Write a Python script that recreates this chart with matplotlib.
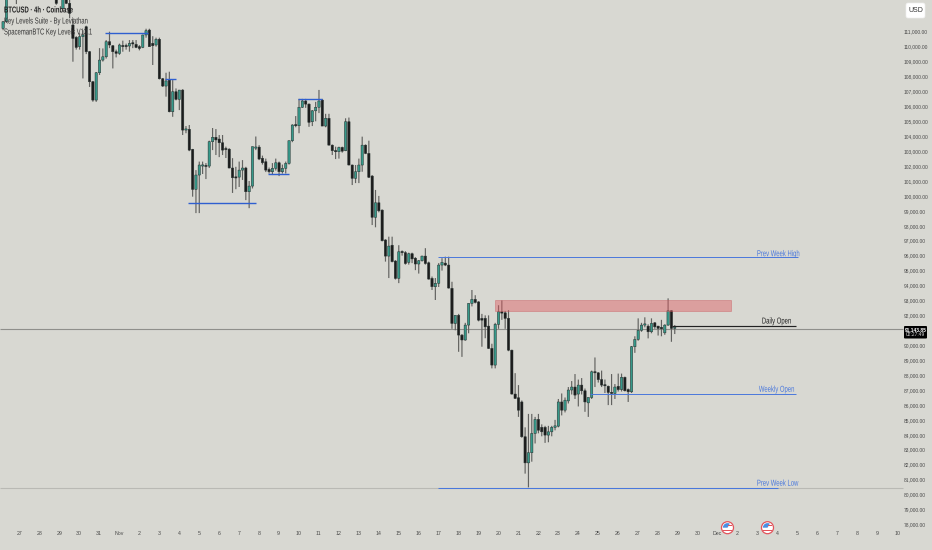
# %% Libraries
import matplotlib

matplotlib.use("Agg")
import matplotlib.pyplot as plt
import numpy as np
from matplotlib.patches import Circle, FancyBboxPatch, Rectangle, Wedge
from matplotlib.patheffects import AbstractPathEffect
from matplotlib.transforms import Affine2D

# %% Data - BTCUSD 4h candles, thousands of USD
opens = [
    111.22, 111.67, 113.25, 113.5, 113.6, 113.7, 113.9, 113.7, 113.8, 114.0,
    113.8, 113.6, 113.8, 113.7, 113.6, 113.5, 113.6, 113.3, 112.56, 113.3,
    112.9, 111.45, 110.62, 110.0, 110.67, 111.33, 109.66, 107.65, 106.42, 108.25,
    109.1, 109.32, 110.33, 110.06, 109.66, 109.55, 110.04, 110.04, 110.04, 110.22,
    110.15, 110.0, 109.95, 110.78, 111.11, 110.22, 110.11, 110.49, 107.85, 107.36,
    107.76, 105.64, 106.98, 106.47, 107.09, 104.41, 104.46, 103.12, 100.44, 101.4,
    102.0, 102.02, 102.0, 103.63, 103.93, 103.81, 103.56, 103.12, 103.13, 101.87,
    101.22, 101.26, 101.73, 101.87, 100.28, 100.66, 103.2, 103.27, 102.52, 102.29,
    101.78, 101.62, 101.85, 102.22, 101.62, 101.85, 102.18, 103.7, 104.75, 104.7,
    105.94, 106.36, 106.15, 104.97, 105.7, 105.94, 106.42, 104.68, 105.2, 103.4,
    103.03, 102.96, 103.25, 103.03, 104.97, 102.07, 101.18, 101.62, 102.07, 103.4,
    102.85, 101.33, 98.57, 99.54, 99.05, 97.05, 95.97, 96.7, 95.64, 94.48,
    96.26, 96.2, 95.55, 96.13, 95.83, 95.44, 95.66, 95.97, 95.52, 94.48,
    93.92, 94.15, 95.37, 95.5, 95.37, 93.81, 91.46, 92.0, 90.68, 90.35,
    91.35, 92.8, 93.07, 92.9, 91.8, 91.8, 91.28, 89.79, 88.67, 91.4,
    92.24, 92.17, 91.8, 89.67, 86.73, 86.48, 86.2, 83.87, 82.12, 82.8,
    84.09, 85.03, 84.5, 84.5, 83.98, 84.2, 84.5, 84.58, 86.2, 85.65,
    86.27, 87.0, 87.2, 86.73, 87.33, 86.95, 86.14, 86.5, 88.22, 88.15,
    87.7, 87.33, 87.25, 86.84, 86.77, 87.25, 87.03, 87.85, 87.03, 86.88,
    89.9, 90.39, 91.0, 91.35, 91.28, 90.9, 91.5, 91.28, 91.2, 90.83,
    91.35, 92.31, 91.13,
]
highs = [
    111.7, 113.3, 113.6, 113.8, 113.9, 114.0, 114.1, 113.9, 114.2, 114.2,
    114.0, 113.9, 114.0, 113.9, 113.8, 113.7, 113.7, 113.6, 113.4, 113.4,
    113.2, 111.9, 110.7, 110.9, 111.1, 111.4, 109.7, 107.7, 108.3, 109.9,
    109.88, 110.44, 111.0, 110.1, 109.8, 110.2, 110.4, 110.2, 110.44, 110.44,
    110.44, 110.1, 110.8, 111.2, 111.2, 110.7, 110.6, 110.6, 107.9, 108.25,
    108.32, 107.76, 107.2, 107.1, 107.15, 104.68, 104.75, 103.15, 101.73, 102.3,
    102.3, 102.2, 103.7, 104.55, 104.48, 104.08, 104.08, 103.3, 103.2, 102.53,
    101.95, 102.3, 102.4, 101.95, 101.0, 103.3, 103.98, 103.4, 102.7, 102.5,
    101.9, 102.2, 102.5, 102.3, 102.1, 102.3, 103.7, 104.8, 105.35, 106.5,
    106.5, 106.5, 106.2, 105.75, 106.3, 107.1, 106.5, 105.5, 105.5, 103.45,
    103.3, 103.3, 103.3, 105.2, 105.25, 102.1, 102.07, 102.5, 103.97, 103.45,
    103.7, 101.4, 100.4, 100.0, 99.1, 97.1, 97.27, 97.27, 95.7, 96.7,
    96.35, 96.3, 96.2, 96.2, 95.9, 95.7, 96.0, 96.5, 95.6, 94.6,
    94.5, 95.5, 95.83, 95.93, 95.93, 94.25, 92.0, 92.1, 90.75, 91.5,
    92.8, 93.7, 93.35, 92.95, 92.1, 92.0, 92.0, 90.1, 91.5, 92.68,
    93.0, 92.3, 92.35, 89.7, 88.13, 87.33, 86.3, 84.5, 85.4, 85.4,
    85.2, 85.4, 84.7, 84.6, 84.6, 84.6, 85.0, 86.4, 86.77, 86.5,
    87.2, 87.6, 88.07, 87.7, 87.8, 87.1, 86.5, 88.3, 89.18, 88.2,
    88.3, 87.7, 87.3, 88.07, 87.4, 88.1, 88.1, 87.9, 87.1, 89.95,
    90.6, 91.8, 91.5, 91.87, 91.4, 91.8, 91.55, 91.3, 91.7, 91.4,
    93.14, 92.35, 91.35,
]
lows = [
    111.1, 111.6, 113.2, 113.3, 112.85, 113.5, 113.6, 113.4, 113.6, 113.7,
    113.5, 113.4, 113.5, 113.4, 113.3, 113.3, 112.8, 113.2, 112.5, 112.85,
    111.9, 108.99, 109.8, 109.8, 107.87, 109.5, 107.3, 106.31, 106.3, 108.1,
    109.0, 109.2, 109.9, 108.54, 109.28, 109.45, 109.66, 109.8, 109.66, 109.9,
    109.9, 109.75, 109.9, 110.6, 110.0, 108.77, 110.0, 107.8, 107.3, 106.65,
    105.6, 105.3, 106.4, 105.75, 104.08, 104.2, 103.0, 99.95, 98.85, 98.85,
    101.47, 101.13, 101.87, 103.07, 102.74, 102.6, 102.74, 102.54, 101.85, 100.2,
    100.45, 100.6, 101.07, 99.72, 99.18, 100.5, 103.07, 102.4, 102.1, 101.6,
    101.5, 101.4, 101.7, 101.33, 101.5, 101.5, 102.1, 103.6, 104.6, 104.2,
    105.9, 105.9, 104.63, 104.68, 105.0, 105.55, 104.68, 104.6, 103.4, 102.74,
    102.47, 102.5, 102.9, 103.0, 102.05, 100.73, 100.86, 100.86, 101.62, 102.8,
    101.2, 98.05, 97.9, 98.9, 96.95, 95.6, 94.5, 95.55, 94.4, 94.16,
    96.0, 95.4, 95.4, 95.5, 95.03, 94.8, 95.6, 95.4, 94.4, 93.7,
    93.03, 93.9, 95.0, 95.3, 93.8, 91.1, 91.0, 89.56, 89.22, 90.3,
    90.8, 92.6, 92.8, 91.6, 89.9, 90.47, 89.75, 88.45, 88.45, 91.1,
    91.7, 91.1, 89.6, 86.7, 86.4, 85.2, 83.8, 81.4, 80.48, 82.2,
    83.42, 84.1, 83.9, 83.46, 83.5, 83.9, 84.3, 84.5, 85.3, 85.5,
    86.1, 86.7, 86.4, 85.9, 86.7, 85.54, 85.2, 86.4, 87.2, 87.5,
    87.2, 86.8, 85.99, 85.99, 86.4, 86.9, 86.9, 86.9, 86.2, 86.8,
    89.49, 90.3, 90.9, 91.2, 90.46, 90.8, 91.1, 90.65, 90.6, 90.7,
    91.3, 90.23, 90.75,
]
closes = [
    111.67, 113.25, 113.5, 113.6, 113.7, 113.9, 113.7, 113.8, 114.0, 113.8,
    113.6, 113.8, 113.7, 113.6, 113.5, 113.6, 112.9, 113.4, 113.3, 112.9,
    112.23, 110.55, 109.95, 110.67, 110.78, 109.66, 107.65, 106.42, 108.25, 109.1,
    109.32, 110.33, 110.11, 109.66, 109.55, 110.11, 110.0, 110.0, 110.22, 110.18,
    109.95, 109.88, 110.78, 111.07, 110.0, 110.06, 110.49, 107.85, 107.36, 107.7,
    105.64, 106.98, 106.47, 107.09, 104.41, 104.45, 103.07, 100.44, 101.4, 102.07,
    102.02, 101.97, 103.63, 103.93, 103.75, 103.56, 103.07, 103.1, 101.87, 101.22,
    101.2, 101.73, 101.87, 100.28, 100.66, 103.3, 103.25, 102.47, 102.23, 101.73,
    101.62, 101.85, 102.22, 101.62, 101.85, 102.18, 103.7, 104.75, 104.7, 105.94,
    106.36, 106.15, 104.93, 105.7, 105.94, 106.36, 104.68, 105.2, 103.4, 103.03,
    102.96, 103.25, 103.0, 104.97, 102.07, 101.18, 101.62, 102.07, 103.4, 102.85,
    101.25, 98.57, 99.54, 99.0, 97.0, 95.97, 96.64, 95.6, 94.48, 96.26,
    96.2, 95.48, 96.13, 95.78, 95.44, 95.66, 95.97, 95.48, 94.43, 93.92,
    94.15, 95.37, 95.55, 95.37, 93.83, 91.46, 92.0, 90.68, 90.35, 91.35,
    92.8, 93.07, 92.87, 91.68, 91.68, 91.23, 89.79, 88.67, 91.4, 92.24,
    92.15, 91.8, 89.67, 86.73, 86.44, 85.65, 83.87, 82.12, 82.8, 84.09,
    85.03, 84.31, 84.2, 83.98, 84.2, 84.5, 84.6, 86.2, 85.65, 86.32,
    87.0, 87.2, 86.66, 87.33, 86.95, 86.2, 86.5, 88.22, 88.15, 87.7,
    87.33, 87.28, 86.84, 86.77, 87.2, 87.03, 87.85, 86.95, 86.88, 89.9,
    90.39, 91.0, 91.35, 91.4, 90.9, 91.46, 91.23, 91.13, 91.1, 91.35,
    92.31, 91.13, 91.14,
]

# Swing levels (blue), then the named levels, all in thousands of USD
swing_prices = [110.93, 107.83, 99.52, 101.47, 106.5]
swing_starts = [30.6, 48.7, 55.6, 79.7, 88.7]
swing_ends = [43.6, 52.0, 76.1, 86.0, 96.0]

level_names = ["Prev Week High", "Weekly Open", "Prev Week Low", "Daily Open"]
level_prices = [95.9, 86.73, 80.46, 91.26]
level_starts = [130.8, 176.5, 130.8, 201.2]
level_ends = [239.0, 238.5, 233.0, 238.5]
label_prices = [96.13, 87.05, 80.76, 91.62]
label_starts = [226.7, 227.3, 226.7, 228.2]

zone_low, zone_high = 92.29, 93.02
zone_start, zone_end = 147.9, 218.9
last_line = 91.06

price_ticks = list(range(78, 112))
day_labels = (
    ["27", "28", "29", "30", "31", "Nov"]
    + [str(d) for d in range(2, 31)]
    + ["Dec"]
    + [str(d) for d in range(2, 11)]
)

# %% Scales - one bar is 3.325 px, one thousand USD is 14.93 px
W, H = 932, 550
BAR_PX = 3.325
BAR0_PX = 3.1
PX_PER_K = 14.93
TOP_PRICE = 111 + 31.7 / PX_PER_K

BG = "#d8d8d2"
GREEN = "#36998a"
BLACK = "#1c1c1c"
BLUE = "#4a78dc"
TEXT = "#4a4a4a"

plt.rcParams["font.family"] = ["Liberation Sans", "DejaVu Sans"]


# The text in the picture is condensed and no narrow family is installed
class Squeeze(AbstractPathEffect):
    def __init__(self, sx):
        super().__init__()
        self.sx = sx

    def draw_path(self, renderer, gc, tpath, affine, rgbFace=None):
        renderer.draw_path(gc, tpath, Affine2D().scale(self.sx, 1) + affine, rgbFace)


narrow = [Squeeze(0.69)]

fig = plt.figure(figsize=(W / 100, H / 100), dpi=100, facecolor=BG)
ax = fig.add_axes([0, 0, 1, 1], facecolor=BG)
ax.set_xlim(-BAR0_PX / BAR_PX, (W - BAR0_PX) / BAR_PX)
ax.set_ylim(TOP_PRICE - H / PX_PER_K, TOP_PRICE)
for s in ax.spines.values():
    s.set_visible(False)

# %% Candles
x = np.arange(len(closes))
o = np.array(opens)
c = np.array(closes)
up = c >= o
colors = np.where(up, GREEN, BLACK)

# Horizontal guide lines go under the candles
right_edge = (903 - BAR0_PX) / BAR_PX
left_edge = -BAR0_PX / BAR_PX
ax.hlines(last_line, left_edge, right_edge, color="#8f8f8b", lw=0.8, zorder=1)
ax.hlines(level_prices[2], left_edge, right_edge, color="#b9b9b4", lw=0.8, zorder=1)

wicks = ax.vlines(x, lows, highs, color="#626260", lw=0.85, zorder=2)
wicks.set_snap(False)
bodies = ax.bar(
    x,
    np.maximum(np.abs(c - o), 0.08),
    bottom=np.minimum(o, c),
    width=0.7,
    color=colors,
    edgecolor="#26302f",
    linewidth=0.35,
    zorder=3,
)
for b in bodies:
    b.set_snap(False)

# %% Levels
ax.hlines(swing_prices, swing_starts, swing_ends, color="#2f5fd0", lw=1.0, zorder=4)
level_colors = [BLUE, BLUE, BLUE, "#222222"]
level_widths = [0.7, 0.7, 0.75, 0.85]
for p, s, e, col, lw in zip(level_prices, level_starts, level_ends, level_colors, level_widths):
    ax.hlines(p, s, e, color=col, lw=lw, zorder=4)

ax.add_patch(
    Rectangle(
        (zone_start, zone_low),
        zone_end - zone_start,
        zone_high - zone_low,
        facecolor="#e05a60",
        alpha=0.45,
        edgecolor="#c9555a",
        lw=0.6,
        zorder=5,
    )
)

for name, p, s, col in zip(level_names, label_prices, label_starts, level_colors):
    ax.text(s, p, name, ha="left", va="center", fontsize=6.2, color=col, zorder=6, path_effects=narrow)

# %% Axes - the tick labels sit inside the figure
ax.yaxis.tick_right()
ax.set_yticks(price_ticks)
ax.set_yticklabels([f"{p * 1000:,.2f}" for p in price_ticks])
ax.tick_params(axis="y", length=0, pad=-20.4, labelsize=3.55, labelcolor=TEXT)
ax.set_xticks(4.9 + 6 * np.arange(len(day_labels)))
ax.set_xticklabels(day_labels)
ax.tick_params(axis="x", length=0, pad=-14, labelsize=3.8, labelcolor=TEXT)

# %% Screen furniture in pixel coordinates
ui = fig.add_axes([0, 0, 1, 1], facecolor="none")
ui.set_xlim(0, W)
ui.set_ylim(H, 0)
ui.axis("off")

ui.text(4, 10, "BTCUSD · 4h · Coinbase", fontsize=6.2, fontweight="bold", color="#222222", va="center", path_effects=narrow)
ui.text(4, 21, "Key Levels Suite - By Leviathan", fontsize=6.2, color="#333333", va="center", path_effects=narrow)
ui.text(4, 32, "SpacemanBTC Key Levels V13.1", fontsize=6.2, color="#333333", va="center", path_effects=narrow)

# 112,000 sits behind the currency button
ui.add_patch(FancyBboxPatch((906, 3), 19, 15, boxstyle="round,pad=0,rounding_size=2", fc="white", ec="#eeeeee", lw=0.5))
ui.text(915.5, 11, "USD", fontsize=5.0, color="#333333", ha="center", va="center")

ui.add_patch(FancyBboxPatch((904, 326), 23, 12.5, boxstyle="round,pad=0,rounding_size=1", fc="black", ec="black", lw=0))
ui.text(915.5, 329.3, "91,143.85", fontsize=3.5, fontweight="bold", color="white", ha="center", va="center")
ui.text(915.5, 335, "02:27:49", fontsize=3.5, color="#dddddd", ha="center", va="center")

# Event flags on the time axis
for cx in (727.5, 767.5):
    ui.add_patch(Circle((cx, 527.7), 6, fc="white", ec="#e2545c", lw=0.9))
    ui.add_patch(Wedge((cx, 527.7), 4.6, 180, 300, fc="#4a90e2", ec="none"))
    ui.add_patch(Rectangle((cx - 4.2, 529.5), 8.4, 1.1, fc="#e2545c", ec="none"))
    ui.add_patch(Rectangle((cx - 3, 531.5), 6, 0.9, fc="#e2545c", ec="none"))
    ui.add_patch(Rectangle((cx, 525), 4.2, 0.9, fc="#e2545c", ec="none"))

fig.savefig("out.png", dpi=100, facecolor=BG)
